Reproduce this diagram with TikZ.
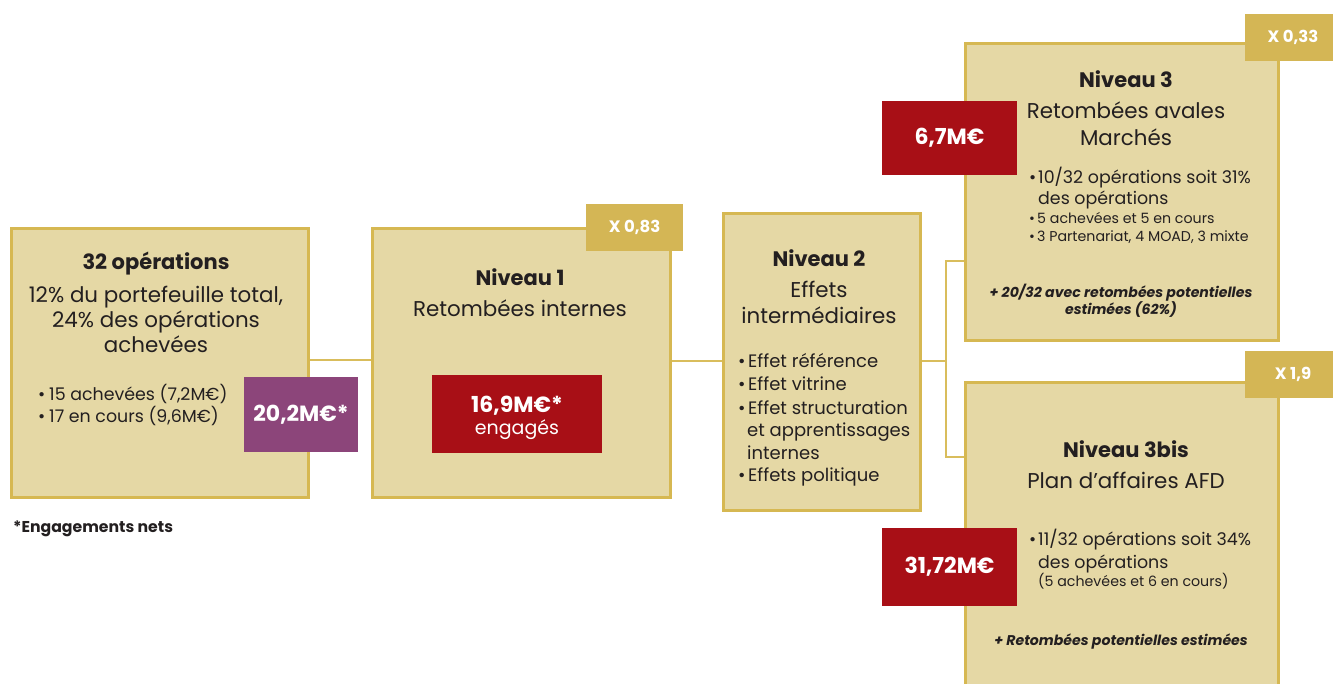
\documentclass[tikz,border=0pt]{standalone}
\usepackage{fontspec}
\setmainfont{Poppins}
\definecolor{panelfill}{HTML}{E5D8A5}
\definecolor{gold}{HTML}{D6B852}
\definecolor{badgegold}{HTML}{D4B655}
\definecolor{linegold}{HTML}{D9BD5C}
\definecolor{valred}{HTML}{A80F16}
\definecolor{valpurple}{HTML}{8C457A}
\definecolor{ink}{HTML}{231F20}
\newcommand{\fHead}{\fontsize{21}{25}\bfseries\selectfont}
\newcommand{\fSub}{\fontsize{21.4}{26}\selectfont}
\newcommand{\fBul}{\fontsize{17.4}{21}\selectfont}
\newcommand{\fBulB}{\fontsize{18}{22}\selectfont}
\newcommand{\fSm}{\fontsize{14.2}{17}\selectfont}
\newcommand{\fItb}{\fontsize{14.1}{17}\bfseries\itshape\selectfont}
\newcommand{\fBadge}{\fontsize{16.5}{20}\bfseries\selectfont}
\newcommand{\fVal}{\fontsize{22}{26}\bfseries\selectfont}
\newcommand{\bul}[1]{\makebox[#1][l]{•}}
\begin{document}
\begin{tikzpicture}[x=1pt,y=-1pt,
  panel/.style={draw=gold, line width=3pt, fill=panelfill, inner sep=0pt},
  badge/.style={fill=badgegold, inner sep=0pt, text=white, font=\fBadge},
  valbox/.style={inner sep=0pt, text=white, align=center},
  tx/.style={anchor=base, inner sep=0pt, text=ink},
  txl/.style={anchor=base west, inner sep=0pt, text=ink},
  link/.style={draw=linegold, line width=1.5pt}]
\useasboundingbox (0,0) rectangle (1333,684);
\clip (0,0) rectangle (1333,684);

% panels
\node[panel, minimum width=297pt, minimum height=269pt] (b1) at (160,363) {};
\node[panel, minimum width=298pt, minimum height=269pt] (b2) at (521.5,363) {};
\node[panel, minimum width=197pt, minimum height=297pt] (b3) at (822,362) {};
\node[panel, minimum width=313pt, minimum height=297pt] (b4) at (1122,192) {};
\node[panel, minimum width=313pt, minimum height=337pt] (b5) at (1122,551.5) {};

% connectors
\coordinate (c1) at (0,360);
\coordinate (c2) at (0,361);
\coordinate (jn) at (946,361);
\coordinate (ju) at (946,261);
\coordinate (jd) at (946,457);
\draw[link] (b1.east |- c1) -- (b2.west |- c1);
\draw[link] (b2.east |- c2) -- (b3.west |- c2);
\draw[link] (b3.east |- jn) -- (jn);
\draw[link] (b4.west |- ju) -- (ju) -- (jd) -- (b5.west |- jd);

% badges
\node[badge, minimum width=97pt, minimum height=47pt] (k1) at (634.5,227.5) {X 0,83};
\node[badge, minimum width=96pt, minimum height=47pt] (k2) at (1293,37.5) {X 0,33};
\node[badge, minimum width=96pt, minimum height=47pt] (k3) at (1293,374.5) {X 1,9};

% value boxes
\node[valbox, fill=valpurple, minimum width=114pt, minimum height=75pt, font=\fVal] (v1) at (301,414.5) {20,2M€*};
\node[valbox, fill=valred, minimum width=170pt, minimum height=78pt] (v2) at (517,414) {};
\node[tx, text=white, font=\fVal] (v2a) at (517,412) {16,9M€*};
\node[tx, text=white, font=\fontsize{19}{23}\selectfont] (v2b) at (517,434) {engagés};
\node[valbox, fill=valred, minimum width=135pt, minimum height=74pt, font=\fVal] (v3) at (949.5,138) {6,7M€};
\node[valbox, fill=valred, minimum width=135pt, minimum height=78pt, font=\fVal] (v4) at (949.5,567) {31,72M€};

% box 1 texts
\node[tx, font=\fHead] (t1a) at (156,270) {32 opérations};
\node[tx, font=\fSub] (t1b) at (156,303) {12\% du portefeuille total,};
\node[tx, font=\fSub] (t1c) at (156,328) {24\% des opérations};
\node[tx, font=\fSub] (t1d) at (156,353) {achevées};
\node[txl, font=\fBul] (t1e) at (38,400) {\bul{11pt}15 achevées (7,2M€)};
\node[txl, font=\fBul] (t1f) at (38,422) {\bul{11pt}17 en cours (9,6M€)};
\node[txl, font=\fontsize{15.7}{19}\bfseries\selectfont] (fn) at (13,532) {*Engagements nets};

% box 2 texts
\node[tx, font=\fHead] (t2a) at (520,286) {Niveau 1};
\node[tx, font=\fSub] (t2b) at (520,317) {Retombées internes};

% box 3 texts
\node[tx, font=\fHead] (t3a) at (819,267) {Niveau 2};
\node[tx, font=\fSub] (t3b) at (819,298) {Effets};
\node[tx, font=\fSub] (t3c) at (819,324) {intermédiaires};
\node[txl, font=\fBulB] (t3d) at (738,368) {\bul{10pt}Effet référence};
\node[txl, font=\fBulB] (t3e) at (738,391) {\bul{10pt}Effet vitrine};
\node[txl, font=\fBulB] (t3f) at (738,414) {\bul{10pt}Effet structuration};
\node[txl, font=\fBulB] (t3g) at (747,436) {et apprentissages};
\node[txl, font=\fBulB] (t3h) at (747,459) {internes};
\node[txl, font=\fBulB] (t3i) at (738,481) {\bul{10pt}Effets politique};

% box 4 texts
\node[tx, font=\fHead] (t4a) at (1126,88) {Niveau 3};
\node[tx, font=\fSub] (t4b) at (1126,119) {Retombées avales};
\node[tx, font=\fSub] (t4c) at (1126,146) {Marchés};
\node[txl, font=\fBul] (t4d) at (1029,184) {\bul{9pt}10/32 opérations soit 31\%};
\node[txl, font=\fBul] (t4e) at (1038,205) {des opérations};
\node[txl, font=\fSm] (t4f) at (1029,224) {\bul{8pt}5 achevées et 5 en cours};
\node[txl, font=\fSm] (t4g) at (1029,242) {\bul{8pt}3 Partenariat, 4 MOAD, 3 mixte};
\node[tx, font=\fItb] (t4h) at (1121,298) {+ 20/32 avec retombées potentielles};
\node[tx, font=\fItb] (t4i) at (1121,315) {estimées (62\%)};

% box 5 texts
\node[tx, font=\fHead] (t5a) at (1126,457) {Niveau 3bis};
\node[tx, font=\fSub] (t5b) at (1126,488) {Plan d’affaires AFD};
\node[txl, font=\fBul] (t5c) at (1029,545) {\bul{9pt}11/32 opérations soit 34\%};
\node[txl, font=\fBul] (t5d) at (1038,568) {des opérations};
\node[txl, font=\fSm] (t5e) at (1038,586) {(5 achevées et 6 en cours)};
\node[tx, font=\fItb] (t5f) at (1121,645) {+ Retombées potentielles estimées};
\end{tikzpicture}
\end{document}
